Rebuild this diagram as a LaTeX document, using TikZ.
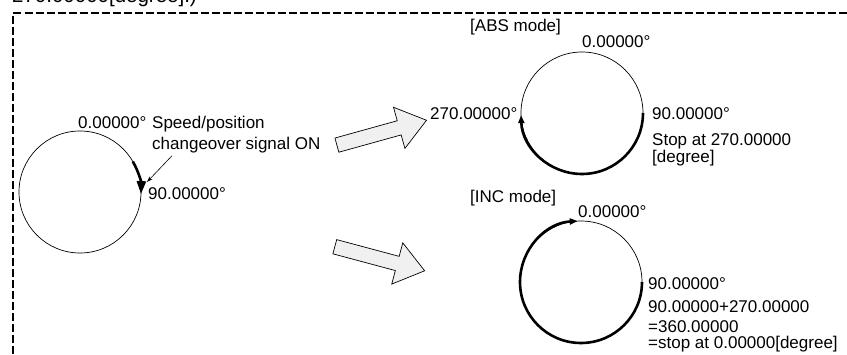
\documentclass[tikz,border=0pt]{standalone}
\usepackage{fontspec}
\setmainfont{Liberation Sans}
\usetikzlibrary{arrows.meta,shapes.arrows,positioning}

\begin{document}
\begin{tikzpicture}[x=1pt,y=1pt,
  lbl/.style={anchor=base west,inner sep=0pt,font=\fontsize{17}{20}\selectfont},
  ring/.style={circle,draw,line width=.7pt,minimum size=122pt,inner sep=0pt,outer sep=0pt},
  boldarc/.style={line width=2.6pt,-{Triangle[length=8pt,width=6pt]}},
  blockarrow/.style={single arrow,draw,line width=.7pt,fill=gray!12,inner sep=7pt,
    minimum height=93pt,single arrow head extend=14pt,single arrow tip angle=74,
    single arrow head indent=0pt},
  pointer/.style={line width=.6pt,-{Stealth[length=6pt,width=4pt]}}
]
  \useasboundingbox (0,0) rectangle (847,354);
  % frame and clipped heading
  \draw[line width=2pt,dash pattern=on 8pt off 3pt] (13,0) -- (13,340.5) -- (847,340.5);
  \node[lbl,font=\fontsize{20.5}{24}\selectfont] (head) at (12,351) {270.00000[degree].)};

  % starting position
  \node[ring] (start) at (80,162) {};
  \draw[boldarc,-{Triangle[length=13pt,width=9pt]}] (start.30) arc[start angle=30,end angle=-2,radius=61pt];
  \node[lbl] (start0) at (78,225) {0.00000\textdegree};
  \node[lbl] (start90) at (148,154) {90.00000\textdegree};
  \node[lbl] (sig1) at (152,225) {Speed/position};
  \node[lbl] (sig2) at (152,204) {changeover signal ON};
  \coordinate (sigtip) at (147,172);
  \draw[pointer] ([shift={(20,-2)}]sig2.south west) -- (sigtip);

  % transitions
  \node[blockarrow,rotate=15.5] (toabs) at (377,220) {};
  \node[blockarrow,rotate=-15] (toinc) at (375,96.5) {};

  % ABS mode
  \node[lbl] (abshead) at (470,322) {[ABS mode]};
  \node[ring] (abs) at (582,241) {};
  \draw[boldarc] (abs.0) arc[start angle=0,end angle=-178,radius=61pt];
  \node[lbl] (abs0) at (582,306) {0.00000\textdegree};
  \node[lbl] (abs270) at (430,234) {270.00000\textdegree};
  \node[lbl] (abs90) at (652,234) {90.00000\textdegree};
  \node[lbl] (absstop1) at (652,208) {Stop at 270.00000};
  \node[lbl] (absstop2) at (652,191) {[degree]};

  % INC mode
  \node[lbl] (inchead) at (470,151) {[INC mode]};
  \node[ring] (inc) at (581,72) {};
  \draw[boldarc] (inc.0) arc[start angle=0,end angle=-267,radius=61pt];
  \node[lbl] (inc0) at (578,136) {0.00000\textdegree};
  \node[lbl] (inc90) at (648,64) {90.00000\textdegree};
  \node[lbl] (incsum) at (648,42) {90.00000+270.00000};
  \node[lbl] (inceq) at (648,22) {=360.00000};
  \node[lbl] (incstop) at (648,6) {=stop at 0.00000[degree]};
\end{tikzpicture}
\end{document}
